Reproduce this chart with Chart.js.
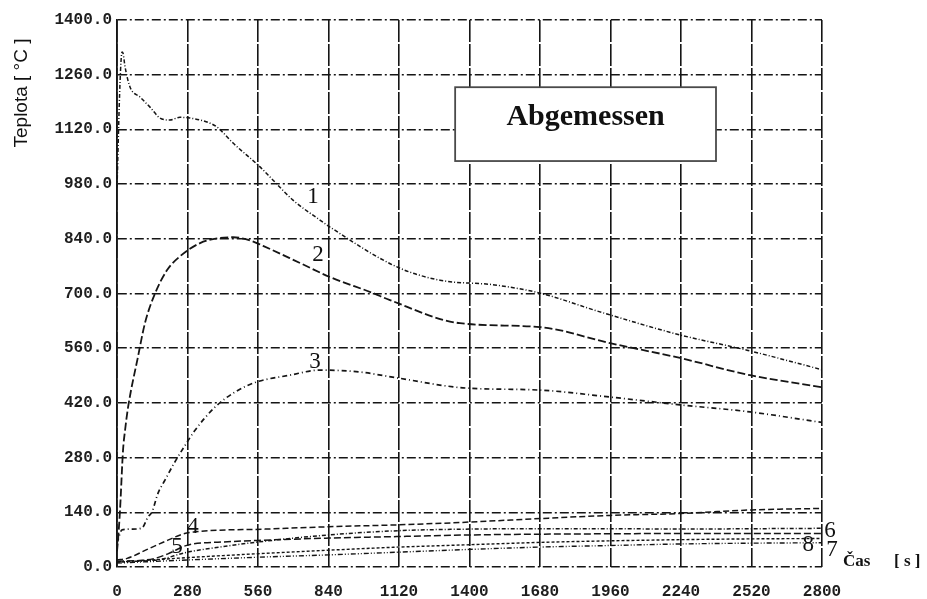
<!DOCTYPE html>
<html lang="cs">
<head>
<meta charset="UTF-8">
<title>Teplota - Abgemessen</title>
<style>
  html, body { margin: 0; padding: 0; background: #fff; }
  #wrap { position: relative; width: 927px; height: 599px; }
</style>
</head>
<body>
<div id="wrap"><canvas id="chart"></canvas></div>
<script src="https://cdn.jsdelivr.net/npm/chart.js"></script>
<script>
// osy
const xTicks = [0, 280, 560, 840, 1120, 1400, 1680, 1960, 2240, 2520, 2800];
const yTicks = [0, 140, 280, 420, 560, 700, 840, 980, 1120, 1260, 1400];

// krivka 1
const t1 = [0, 12, 20, 24, 32, 52, 91, 131, 171, 210, 250, 290, 357, 397, 461, 568, 620, 699, 806, 846, 1112, 1283, 1500, 1680, 1918, 2236, 2502, 2800];
const temp1 = [970, 1240, 1318, 1315, 1280, 1228, 1203, 1177, 1149, 1144, 1151, 1149, 1139, 1126, 1085, 1024, 990, 939, 888, 870, 768, 734, 722, 701, 653, 594, 555, 505];
// krivka 2
const t2 = [0, 4, 12, 24, 32, 44, 83, 111, 151, 199, 250, 330, 409, 461, 528, 580, 727, 846, 1017, 1084, 1362, 1680, 1958, 2236, 2514, 2800];
const temp2 = [40, 69, 146, 299, 350, 409, 537, 624, 700, 760, 795, 829, 842, 844, 836, 822, 778, 742, 701, 683, 624, 614, 573, 535, 491, 460];
// krivka 3
const t3 = [0, 20, 60, 99, 123, 139, 163, 191, 230, 266, 310, 389, 469, 552, 687, 806, 965, 1112, 1386, 1672, 1958, 2236, 2514, 2800];
const temp3 = [61, 95, 97, 100, 128, 141, 189, 223, 269, 307, 350, 409, 448, 473, 491, 504, 499, 484, 458, 453, 435, 415, 397, 370];
// krivky 4 - 8
const t4 = [0, 40, 120, 200, 260, 310, 590, 840, 1120, 1400, 1680, 1960, 2240, 2520, 2800];
const temp4 = [18, 22, 45, 68, 84, 90, 97, 103, 108, 115, 124, 132, 137, 146, 150];
const t5 = [0, 100, 150, 200, 280, 420, 560, 840, 1120, 1400, 1680, 1960, 2240, 2520, 2800];
const temp5 = [15, 17, 22, 33, 56, 64, 68, 74, 78, 82, 84, 85, 86, 86, 86];
const t6 = [0, 150, 280, 420, 560, 840, 1120, 1400, 1680, 1960, 2240, 2520, 2800];
const temp6 = [14, 17, 38, 52, 64, 82, 93, 97, 98, 98, 97, 98, 99];
const t78 = [0, 280, 560, 840, 1120, 1400, 1680, 1960, 2240, 2520, 2800];
const temp7 = [10, 18, 25, 31, 38, 45, 51, 55, 59, 61, 62];
const temp8 = [12, 24, 34, 43, 51, 57, 63, 67, 70, 72, 73];

// cisla krivek (poloha v jednotkach os)
const curveNames = ['1', '2', '3', '4', '5', '6', '7', '8'];
const nameT = [778, 798, 786, 302, 238, 2832, 2840, 2745];
const nameTemp = [947, 798, 525, 102, 51, 92, 44, 56];

// ramecek s nadpisem (jednotky os)
const boxT = [1343, 2379];
const boxTemp = [1228, 1039];
const boxText = 'Abgemessen';

const pts = (t, v) => t.map((x, i) => ({ x: x, y: v[i] }));

function curve(t, v, dash, width) {
    return {
        data: pts(t, v),
        borderColor: '#151515',
        borderWidth: width || 1.6,
        borderDash: dash,
        pointRadius: 0,
        fill: false,
        tension: 0.4,
        cubicInterpolationMode: 'monotone'
    };
}

const overlay = {
    id: 'overlay',
    afterDraw(chart) {
        const ctx = chart.ctx;
        const xs = chart.scales.x, ys = chart.scales.y;
        ctx.save();

        // ramecek
        const bx = xs.getPixelForValue(boxT[0]), bx2 = xs.getPixelForValue(boxT[1]);
        const by = ys.getPixelForValue(boxTemp[0]), by2 = ys.getPixelForValue(boxTemp[1]);
        ctx.fillStyle = '#fff';
        ctx.fillRect(bx, by, bx2 - bx, by2 - by);
        ctx.strokeStyle = '#4a4a4a';
        ctx.lineWidth = 1.8;
        ctx.strokeRect(bx, by, bx2 - bx, by2 - by);
        ctx.fillStyle = '#111';
        ctx.font = 'bold 30px "Liberation Serif", serif';
        ctx.textAlign = 'center';
        ctx.textBaseline = 'alphabetic';
        ctx.fillText(boxText, (bx + bx2) / 2, by + 38);

        // cisla krivek
        ctx.font = '23px "Liberation Serif", serif';
        ctx.textBaseline = 'middle';
        curveNames.forEach((n, i) => {
            ctx.fillText(n, xs.getPixelForValue(nameT[i]), ys.getPixelForValue(nameTemp[i]));
        });

        // popisy os
        ctx.font = 'bold 17px "Liberation Serif", serif';
        ctx.textAlign = 'left';
        ctx.textBaseline = 'alphabetic';
        ctx.fillText('Čas', 843, 566);
        ctx.fillText('[ s ]', 894, 566);

        ctx.translate(22, 93);
        ctx.rotate(-Math.PI / 2);
        ctx.textAlign = 'center';
        ctx.textBaseline = 'middle';
        ctx.font = '19px "Liberation Sans", sans-serif';
        ctx.fillText('Teplota [ °C ]', 0, 0);
        ctx.restore();
    }
};

const tickFont = { family: '"Liberation Mono", monospace', size: 16, weight: 'bold' };

new Chart(document.getElementById('chart'), {
    type: 'line',
    data: {
        datasets: [
            curve(t1, temp1, [4, 2, 1, 2], 1.5),
            curve(t2, temp2, [8, 3], 1.8),
            curve(t3, temp3, [5, 3, 1, 3], 1.7),
            curve(t4, temp4, [6, 3], 1.5),
            curve(t5, temp5, [7, 3], 1.5),
            curve(t6, temp6, [4, 2, 1, 2], 1.5),
            curve(t78, temp7, [5, 2, 1, 2, 1, 2], 1.4),
            curve(t78, temp8, [3, 2], 1.4)
        ]
    },
    options: {
        responsive: true,
        maintainAspectRatio: false,
        animation: false,
        layout: { padding: { left: 0, top: 20, right: 105, bottom: 0 } },
        plugins: { legend: { display: false }, tooltip: { enabled: false } },
        scales: {
            x: {
                type: 'linear',
                min: 0,
                max: 2800,
                afterBuildTicks: s => { s.ticks = xTicks.map(v => ({ value: v })); },
                afterFit: s => { s.height = 32; },
                grid: { color: '#151515', lineWidth: 1.6, drawTicks: false },
                border: { display: false, dash: [22, 2] },
                ticks: { color: '#1e1e1e', font: tickFont, padding: 15, maxRotation: 0, callback: v => String(v) }
            },
            y: {
                min: 0,
                max: 1400,
                afterBuildTicks: s => { s.ticks = yTicks.map(v => ({ value: v })); },
                afterFit: s => { s.width = 117; },
                grid: { color: '#151515', lineWidth: 1.5, drawTicks: false },
                border: { display: true, color: '#151515', width: 1.8, dash: [9, 3, 2, 3] },
                ticks: { color: '#1e1e1e', font: tickFont, padding: 5, callback: v => v.toFixed(1) }
            }
        }
    },
    plugins: [overlay]
});
</script>
</body>
</html>
